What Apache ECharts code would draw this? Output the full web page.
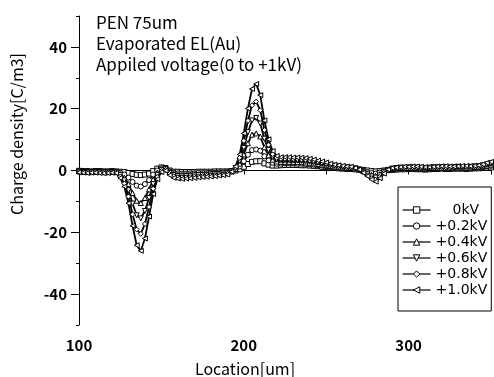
<!DOCTYPE html>
<html>
<head>
<meta charset="utf-8">
<script src="https://cdn.jsdelivr.net/npm/echarts@6/dist/echarts.min.js"></script>
<style>
  html, body { margin: 0; padding: 0; background: #fff; }
  #chart { width: 494px; height: 377px; }
</style>
</head>
<body>
<div id="chart"></div>
<script>
// location [um]
const location_um = [
  100, 102.5, 105, 107.5, 110, 112.5, 115, 117.5, 120, 122.5,
  125, 127.5, 130, 132.5, 135, 137.5, 140, 142.5, 145, 147.5,
  150, 152.5, 155, 157.5, 160, 162.5, 165, 167.5, 170, 172.5,
  175, 177.5, 180, 182.5, 185, 187.5, 190, 192.5, 195, 197.5,
  200, 202.5, 205, 207.5, 210, 212.5, 215, 217.5, 220, 222.5,
  225, 227.5, 230, 232.5, 235, 237.5, 240, 242.5, 245, 247.5,
  250, 252.5, 255, 257.5, 260, 262.5, 265, 267.5, 270, 272.5,
  275, 277.5, 280, 282.5, 285, 287.5, 290, 292.5, 295, 297.5,
  300, 302.5, 305, 307.5, 310, 312.5, 315, 317.5, 320, 322.5,
  325, 327.5, 330, 332.5, 335, 337.5, 340, 342.5, 345, 347.5,
  350
]

// charge density [C/m3] for each applied voltage
const kv00 = [
  -0.1, -0.2, -0.2, -0.3, -0.2, -0.2, -0.3, -0.3, -0.2, -0.3,
  -0.4, -0.5, -0.8, -1.1, -1.4, -1.5, -1.3, -1.0, -0.2, 0.6,
  1.0, 0.8, 0.0, -0.4, -0.4, -0.5, -0.5, -0.5, -0.5, -0.4,
  -0.4, -0.4, -0.4, -0.3, -0.3, -0.3, -0.3, -0.2, 0.0, 0.4,
  1.2, 2.1, 2.8, 3.0, 3.0, 2.3, 1.9, 1.6, 1.6, 1.7,
  1.8, 1.8, 1.8, 1.8, 1.7, 1.7, 1.6, 1.5, 1.4, 1.2,
  1.1, 1.0, 0.8, 0.7, 0.6, 0.5, 0.5, 0.4, 0.3, 0.2,
  0.0, -0.2, -0.3, -0.2, 0.0, 0.1, 0.2, 0.3, 0.4, 0.4,
  0.5, 0.5, 0.4, 0.4, 0.3, 0.4, 0.5, 0.5, 0.6, 0.5,
  0.5, 0.6, 0.6, 0.6, 0.5, 0.6, 0.7, 0.7, 0.8, 0.9,
  1.0
]
const kv02 = [
  -0.2, -0.3, -0.3, -0.4, -0.3, -0.3, -0.4, -0.4, -0.3, -0.4,
  -0.7, -1.3, -2.3, -3.7, -4.9, -5.2, -4.4, -3.1, -1.3, 0.0,
  0.7, 0.7, -0.3, -0.8, -0.9, -1.0, -1.0, -0.9, -0.9, -0.8,
  -0.8, -0.8, -0.7, -0.7, -0.6, -0.6, -0.5, -0.2, 0.3, 1.3,
  3.0, 5.1, 6.6, 6.8, 6.4, 4.6, 3.3, 2.5, 2.2, 2.2,
  2.3, 2.3, 2.3, 2.2, 2.2, 2.1, 2.0, 1.9, 1.7, 1.6,
  1.4, 1.2, 1.1, 0.9, 0.8, 0.7, 0.7, 0.5, 0.3, -0.1,
  -0.5, -0.8, -1.0, -0.7, -0.2, 0.2, 0.4, 0.5, 0.6, 0.6,
  0.7, 0.7, 0.6, 0.6, 0.5, 0.6, 0.7, 0.7, 0.8, 0.7,
  0.7, 0.8, 0.8, 0.8, 0.7, 0.8, 0.9, 1.0, 1.1, 1.3,
  1.5
]
const kv04 = [
  -0.3, -0.4, -0.4, -0.5, -0.4, -0.4, -0.5, -0.5, -0.4, -0.5,
  -1.1, -2.3, -4.4, -7.3, -9.8, -10.5, -8.9, -6.1, -2.9, -0.7,
  0.4, 0.5, -0.5, -1.1, -1.3, -1.4, -1.4, -1.3, -1.2, -1.2,
  -1.1, -1.1, -1.0, -0.9, -0.8, -0.8, -0.7, -0.3, 0.5, 2.2,
  5.2, 8.8, 11.6, 12.0, 11.0, 7.5, 4.9, 3.5, 2.9, 2.8,
  2.8, 2.8, 2.7, 2.7, 2.7, 2.6, 2.5, 2.3, 2.1, 1.9,
  1.7, 1.5, 1.3, 1.1, 1.0, 0.9, 0.8, 0.6, 0.3, -0.2,
  -0.9, -1.4, -1.7, -1.2, -0.4, 0.2, 0.5, 0.7, 0.8, 0.8,
  0.8, 0.9, 0.8, 0.7, 0.7, 0.8, 0.8, 0.9, 0.9, 0.9,
  0.9, 1.0, 1.0, 1.0, 0.9, 1.0, 1.1, 1.2, 1.4, 1.6,
  1.9
]
const kv06 = [
  -0.4, -0.5, -0.5, -0.6, -0.5, -0.5, -0.6, -0.6, -0.5, -0.6,
  -1.5, -3.2, -6.4, -10.7, -14.5, -15.5, -13.1, -8.9, -4.4, -1.4,
  0.1, 0.4, -0.8, -1.5, -1.8, -1.9, -1.8, -1.7, -1.6, -1.5,
  -1.5, -1.4, -1.3, -1.2, -1.1, -1.0, -0.9, -0.3, 0.8, 3.1,
  7.3, 12.4, 16.2, 17.0, 15.2, 10.3, 6.6, 4.4, 3.5, 3.3,
  3.3, 3.3, 3.2, 3.2, 3.1, 3.0, 2.9, 2.7, 2.5, 2.2,
  2.0, 1.7, 1.5, 1.3, 1.1, 1.0, 0.9, 0.7, 0.3, -0.4,
  -1.2, -1.9, -2.3, -1.6, -0.6, 0.2, 0.6, 0.8, 0.9, 0.9,
  1.0, 1.0, 0.9, 0.9, 0.8, 0.9, 1.0, 1.0, 1.1, 1.0,
  1.0, 1.1, 1.2, 1.1, 1.1, 1.2, 1.3, 1.4, 1.6, 1.9,
  2.2
]
const kv08 = [
  -0.5, -0.6, -0.6, -0.7, -0.6, -0.6, -0.7, -0.7, -0.6, -0.7,
  -2.0, -4.2, -8.4, -14.2, -19.1, -20.5, -17.3, -11.8, -5.9, -2.1,
  -0.2, 0.2, -1.1, -1.9, -2.2, -2.3, -2.2, -2.1, -2.0, -1.9,
  -1.8, -1.7, -1.6, -1.5, -1.4, -1.3, -1.1, -0.4, 1.0, 4.1,
  9.6, 16.1, 21.1, 22.3, 19.5, 13.1, 8.3, 5.3, 4.1, 3.8,
  3.8, 3.8, 3.7, 3.7, 3.6, 3.5, 3.3, 3.1, 2.8, 2.6,
  2.3, 2.0, 1.7, 1.5, 1.3, 1.1, 1.0, 0.7, 0.3, -0.6,
  -1.6, -2.5, -3.0, -2.1, -0.8, 0.2, 0.7, 0.9, 1.0, 1.0,
  1.1, 1.1, 1.1, 1.0, 0.9, 1.0, 1.1, 1.2, 1.2, 1.1,
  1.1, 1.2, 1.3, 1.3, 1.2, 1.3, 1.4, 1.5, 1.8, 2.2,
  2.5
]
const kv10 = [
  -0.6, -0.7, -0.8, -0.7, -0.7, -0.8, -0.9, -0.8, -0.7, -0.8,
  -2.4, -5.2, -10.6, -17.9, -24.2, -26.0, -22.0, -14.9, -7.6, -2.8,
  -0.5, 0.0, -1.5, -2.4, -2.6, -2.7, -2.6, -2.5, -2.4, -2.2,
  -2.1, -2.0, -1.9, -1.8, -1.6, -1.5, -1.3, -0.4, 1.3, 5.2,
  12.0, 20.1, 26.4, 28.0, 24.4, 16.2, 10.1, 6.3, 4.7, 4.3,
  4.3, 4.3, 4.2, 4.2, 4.1, 4.0, 3.8, 3.5, 3.2, 2.9,
  2.6, 2.2, 1.9, 1.7, 1.5, 1.3, 1.2, 0.8, 0.3, -0.7,
  -1.8, -2.9, -3.6, -2.5, -1.0, 0.3, 0.8, 1.0, 1.1, 1.2,
  1.2, 1.3, 1.3, 1.2, 1.1, 1.1, 1.2, 1.3, 1.4, 1.4,
  1.3, 1.3, 1.4, 1.5, 1.5, 1.4, 1.5, 1.7, 2.0, 2.5,
  2.8
]

const seriesNames = ['0kV', '+0.2kV', '+0.4kV', '+0.6kV', '+0.8kV', '+1.0kV']
const seriesValues = [kv00, kv02, kv04, kv06, kv08, kv10]

// y ticks
const yMajorTicks = [-40, -20, 0, 20, 40]
const yMinorTicks = [-50, -30, -10, 10, 30, 50]

// 符号配置
const markerShapes = ['rect', 'circle', 'triangle', 'triangle', 'diamond', 'triangle']
const markerRotate = [0, 0, 0, 180, 0, 90]

const FONT = '"Noto Sans CJK JP", "Noto Sans", sans-serif'
const LEGEND_FONT = '"DejaVu Sans", sans-serif'

const chart = echarts.init(document.getElementById('chart'))

const option = {
  animation: false,
  backgroundColor: '#fff',
  title: {
    text: 'PEN 75um\nEvaporated EL(Au)\nAppiled voltage(0 to +1kV)',
    left: 96,
    top: 12,
    padding: 0,
    textStyle: {
      fontFamily: FONT,
      fontSize: 17,
      fontWeight: 'normal',
      lineHeight: 21,
      color: '#000'
    }
  },
  // 坐标轴标题
  graphic: [
    {
      type: 'text',
      x: 17,
      y: 134,
      rotation: Math.PI / 2,
      style: {
        text: 'Charge density[C/m3]',
        fontFamily: FONT,
        fontSize: 16,
        fill: '#000',
        align: 'center',
        verticalAlign: 'middle'
      }
    },
    {
      type: 'text',
      x: 245,
      y: 369,
      style: {
        text: 'Location[um]',
        fontFamily: FONT,
        fontSize: 16,
        fill: '#000',
        align: 'center',
        verticalAlign: 'middle'
      }
    }
  ],
  grid: {
    left: 79,
    right: 3,
    top: 16,
    bottom: 52
  },
  legend: {
    data: seriesNames,
    orient: 'vertical',
    left: 398,
    top: 187,
    padding: [16, 4, 14, 4],
    itemGap: 2,
    itemWidth: 28,
    itemHeight: 8,
    borderColor: '#000',
    borderWidth: 1,
    backgroundColor: '#fff',
    itemStyle: { color: '#fff', borderColor: '#000', borderWidth: 1 },
    lineStyle: { color: '#000', width: 1.2 },
    formatter: (name) => (name === '0kV' ? '{pad|0kV}' : name),
    textStyle: {
      fontFamily: LEGEND_FONT,
      fontSize: 14,
      lineHeight: 14,
      color: '#000',
      rich: {
        pad: { fontFamily: LEGEND_FONT, fontSize: 14, lineHeight: 14, color: '#000', padding: [0, 0, 0, 17] }
      }
    }
  },
  xAxis: {
    type: 'value',
    min: 100,
    max: 350,
    interval: 50,
    splitLine: { show: false },
    axisLine: { lineStyle: { color: '#000', width: 1 } },
    axisTick: { length: 4, lineStyle: { color: '#000' } },
    axisLabel: {
      fontFamily: FONT,
      fontSize: 15,
      fontWeight: 'bold',
      color: '#000',
      margin: 13,
      formatter: (v) => (v % 100 === 0 ? String(v) : '')
    }
  },
  yAxis: [
    {
      type: 'value',
      min: -50,
      max: 50,
      interval: 10,
      splitLine: { show: false },
      axisLine: { show: true, lineStyle: { color: '#000', width: 1 } },
      axisTick: { length: 8, customValues: yMajorTicks, lineStyle: { color: '#000' } },
      axisLabel: {
        fontFamily: FONT,
        fontSize: 15,
        fontWeight: 'bold',
        color: '#000',
        margin: 12,
        customValues: yMajorTicks
      }
    },
    {
      type: 'value',
      min: -50,
      max: 50,
      interval: 10,
      position: 'left',
      splitLine: { show: false },
      axisLine: { show: false },
      axisTick: { length: 3, customValues: yMinorTicks, lineStyle: { color: '#000' } },
      axisLabel: { show: false }
    }
  ],
  series: seriesNames.map((name, k) => ({
    name: name,
    type: 'line',
    data: location_um.map((x, i) => [x, seriesValues[k][i]]),
    symbol: markerShapes[k],
    symbolRotate: markerRotate[k],
    symbolSize: 5,
    showSymbol: true,
    lineStyle: { color: '#000', width: 1.8 },
    itemStyle: { color: '#fff', borderColor: '#000', borderWidth: 1 }
  }))
}

chart.setOption(option)
</script>
</body>
</html>
